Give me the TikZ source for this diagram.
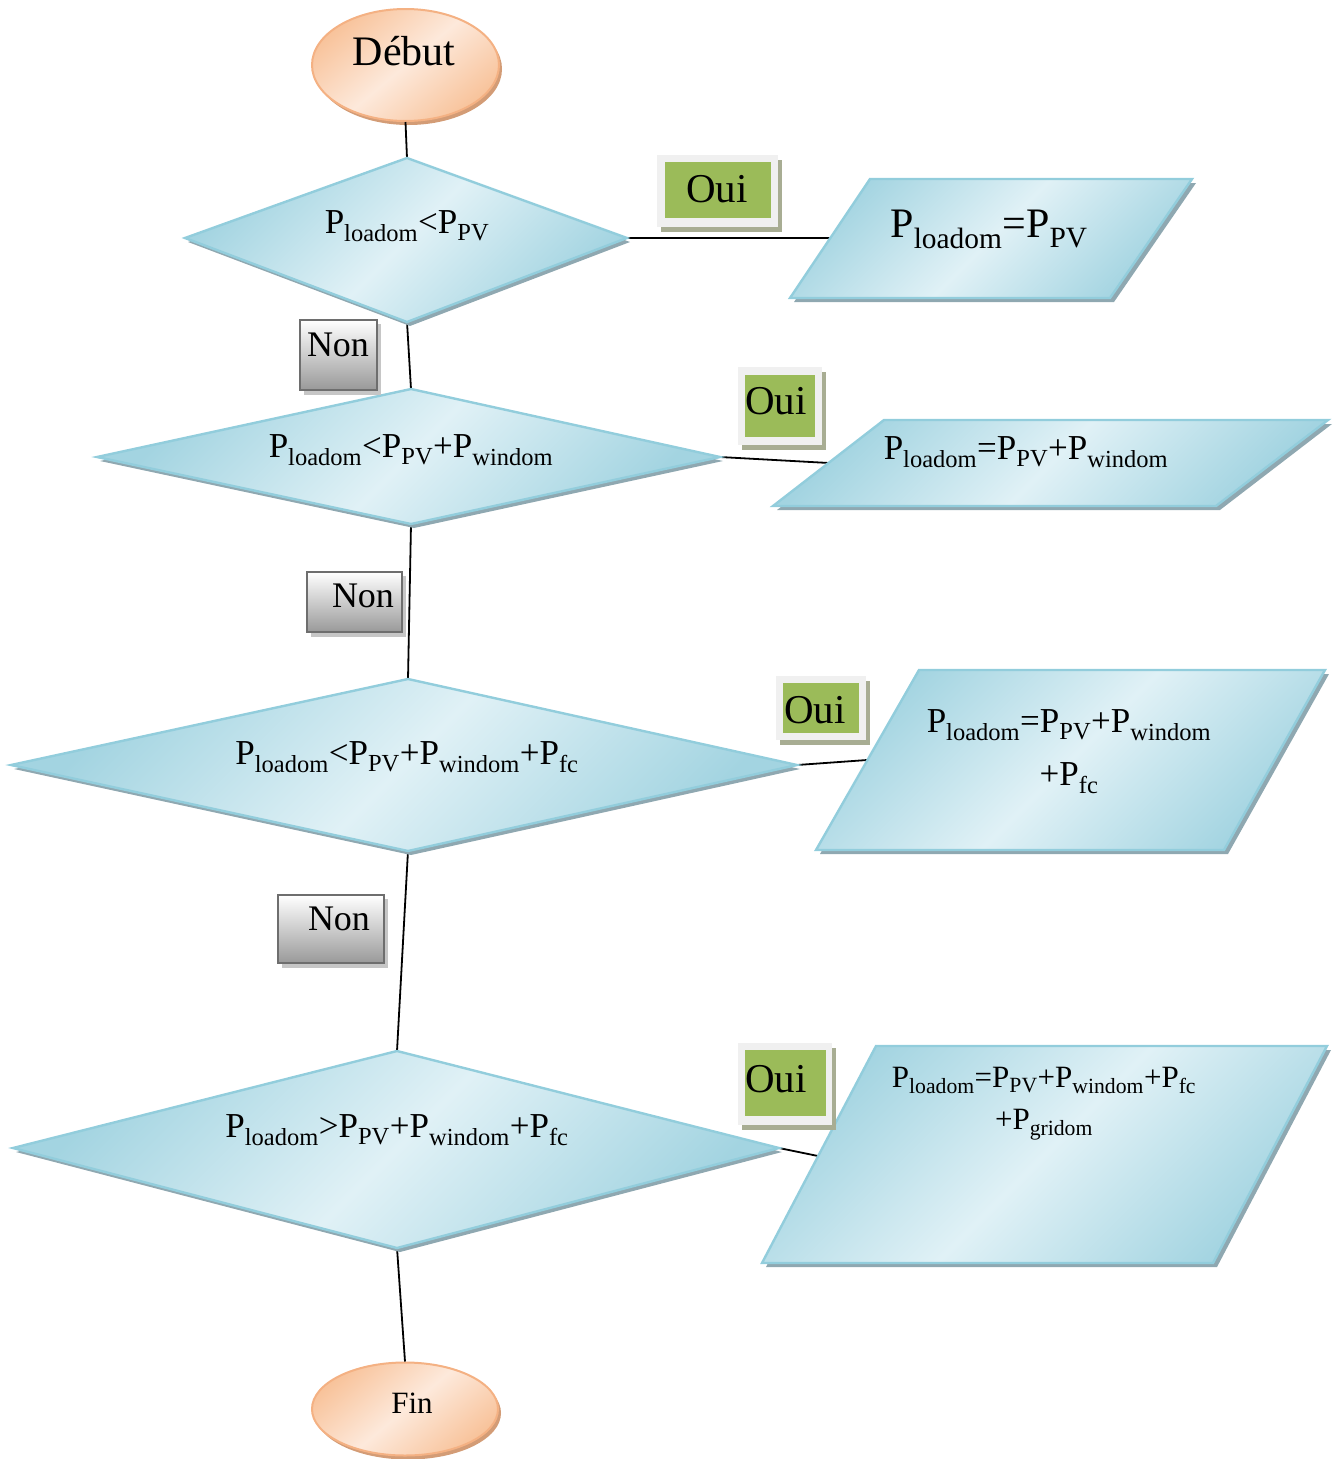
\documentclass[tikz,border=0pt]{standalone}
\usepackage{fontspec}
\setmainfont{Liberation Serif}
\usetikzlibrary{shapes.geometric}

\definecolor{blueedge}{HTML}{92CDDC}
\definecolor{bluedark}{HTML}{A3D4E1}
\definecolor{bluelight}{HTML}{E0F1F6}
\definecolor{blueshadow}{HTML}{8FA8B1}
\definecolor{orangeedge}{HTML}{F4B183}
\definecolor{orangedark}{HTML}{F8C39B}
\definecolor{orangelight}{HTML}{FDE9DB}
\definecolor{orangeshadow}{HTML}{D39C76}
\definecolor{ouigreen}{HTML}{9BBB59}
\definecolor{ouiframe}{HTML}{F0F0F0}
\definecolor{ouishadow}{HTML}{A8AD93}
\definecolor{nonedge}{HTML}{6E6E6E}
\definecolor{nondark}{HTML}{999999}
\definecolor{nonshadow}{HTML}{C6C6C6}

\tikzset{
  x=1pt, y=-1pt,
  link/.style={draw=black, line width=1.8pt},
  decision/.style={
    preaction={fill=blueshadow, transform canvas={shift={(3,4)}}},
    draw=blueedge, line width=2.4pt, line join=miter,
    top color=bluedark, bottom color=bluedark, middle color=bluelight,
    shading angle=45},
  iobox/.style={
    preaction={fill=blueshadow, transform canvas={shift={(4,4)}}},
    draw=blueedge, line width=2.4pt,
    top color=bluedark, bottom color=bluedark, middle color=bluelight,
    shading angle=45},
  terminal/.style={ellipse, inner sep=0pt,
    preaction={fill=orangeshadow, transform canvas={shift={(3,4)}}},
    draw=orangeedge, line width=2pt,
    top color=orangedark, bottom color=orangedark, middle color=orangelight,
    shading angle=40},
  ouishade/.style={fill=ouishadow},
  ouiouter/.style={fill=ouiframe},
  ouiinner/.style={fill=ouigreen},
  nonshade/.style={fill=nonshadow},
  nonbox/.style={draw=nonedge, line width=2pt, top color=white, bottom color=nondark},
  txt/.style={anchor=base, inner sep=0pt, text=black},
}

\newcommand\bigtxt{\fontsize{35}{42}\selectfont}

\begin{document}
\begin{tikzpicture}
\useasboundingbox (0,0) rectangle (1340,1459);

% ---- terminals ----
\node[terminal, minimum width=187pt, minimum height=112pt] (start) at (405.5,65) {};
\node[txt, font=\fontsize{42}{48}\selectfont] (starttxt) at (404,65) {Début};

\node[terminal, minimum width=186pt, minimum height=93pt] (stop) at (405,1409) {};
\node[txt, font=\fontsize{31}{36}\selectfont] (stoptxt) at (412,1413) {Fin};

% ---- decision corners ----
\coordinate (d1t) at (407,158);  \coordinate (d1r) at (627,238);
\coordinate (d1b) at (407,322);  \coordinate (d1l) at (185,238);
\coordinate (d2t) at (411,389);  \coordinate (d2r) at (720,457);
\coordinate (d2b) at (411,524);  \coordinate (d2l) at (97,457);
\coordinate (d3t) at (408,679);  \coordinate (d3r) at (797,765);
\coordinate (d3b) at (408,851);  \coordinate (d3l) at (11,765);
\coordinate (d4t) at (397,1051); \coordinate (d4r) at (779,1148);
\coordinate (d4b) at (397,1248); \coordinate (d4l) at (13,1148);

% ---- output corners ----
\coordinate (p1tl) at (870,179);  \coordinate (p1tr) at (1192,179);
\coordinate (p1br) at (1110,298); \coordinate (p1bl) at (790,298);
\coordinate (p2tl) at (884,420);  \coordinate (p2tr) at (1328,420);
\coordinate (p2br) at (1216,506); \coordinate (p2bl) at (773,506);
\coordinate (p3tl) at (919,670);  \coordinate (p3tr) at (1325,670);
\coordinate (p3br) at (1224,850); \coordinate (p3bl) at (816,850);
\coordinate (p4tl) at (876,1046); \coordinate (p4tr) at (1327,1046);
\coordinate (p4br) at (1213,1263); \coordinate (p4bl) at (762,1263);

% connector ends on the slanted left sides
\coordinate (p1in) at (830,238);
\coordinate (p2in) at (829,463);
\coordinate (p3in) at (867,760);
\coordinate (p4in) at (818,1156);

% ---- connectors ----
\draw[link] (start.south) -- (d1t);
\draw[link] (d1b) -- (d2t);
\draw[link] (d2b) -- (d3t);
\draw[link] (d3b) -- (d4t);
\draw[link] (d4b) -- (stop.north);
\draw[link] (d1r) -- (p1in);
\draw[link] (d2r) -- (p2in);
\draw[link] (d3r) -- (p3in);
\draw[link] (d4r) -- (p4in);

% ---- decisions ----
\path[decision] (d1t) -- (d1r) -- (d1b) -- (d1l) -- cycle;
\path[decision] (d2t) -- (d2r) -- (d2b) -- (d2l) -- cycle;
\path[decision] (d3t) -- (d3r) -- (d3b) -- (d3l) -- cycle;
\path[decision] (d4t) -- (d4r) -- (d4b) -- (d4l) -- cycle;

\node[txt, font=\bigtxt] (c1) at (407,233)
  {P\textsubscript{loadom}<P\textsubscript{PV}};
\node[txt, font=\bigtxt] (c2) at (411,457)
  {P\textsubscript{loadom}<P\textsubscript{PV}+P\textsubscript{windom}};
\node[txt, font=\bigtxt] (c3) at (407,764)
  {P\textsubscript{loadom}<P\textsubscript{PV}+P\textsubscript{windom}+P\textsubscript{fc}};
\node[txt, font=\bigtxt] (c4) at (397,1137)
  {P\textsubscript{loadom}>P\textsubscript{PV}+P\textsubscript{windom}+P\textsubscript{fc}};

% ---- outputs ----
\path[iobox] (p1tl) -- (p1tr) -- (p1br) -- (p1bl) -- cycle;
\path[iobox] (p2tl) -- (p2tr) -- (p2br) -- (p2bl) -- cycle;
\path[iobox] (p3tl) -- (p3tr) -- (p3br) -- (p3bl) -- cycle;
\path[iobox] (p4tl) -- (p4tr) -- (p4br) -- (p4bl) -- cycle;

\node[txt, font=\fontsize{42}{48}\selectfont] (o1) at (989,237)
  {P\textsubscript{loadom}=P\textsubscript{PV}};
\node[txt, font=\bigtxt] (o2) at (1026,459)
  {P\textsubscript{loadom}=P\textsubscript{PV}+P\textsubscript{windom}};
\node[txt, font=\bigtxt] (o3a) at (1069,732)
  {P\textsubscript{loadom}=P\textsubscript{PV}+P\textsubscript{windom}};
\node[txt, font=\bigtxt] (o3b) at (1069,785)
  {+P\textsubscript{fc}};
\node[txt, font=\fontsize{31}{37}\selectfont] (o4a) at (1044,1087)
  {P\textsubscript{loadom}=P\textsubscript{PV}+P\textsubscript{windom}+P\textsubscript{fc}};
\node[txt, font=\fontsize{31}{37}\selectfont] (o4b) at (1044,1129)
  {+P\textsubscript{gridom}};

% ---- Oui labels ----
\fill[ouishade] (661,160) rectangle (782,232);
\fill[ouiouter] (657,155) rectangle (778,227);
\fill[ouiinner] (665,162) rectangle (771,218);
\node[txt, font=\fontsize{41}{48}\selectfont] (oui1) at (717,202) {Oui};

\fill[ouishade] (742,372) rectangle (826,450);
\fill[ouiouter] (738,367) rectangle (822,445);
\fill[ouiinner] (745,375) rectangle (815,437);
\node[txt, font=\fontsize{41}{48}\selectfont] (oui2) at (776,414) {Oui};

\fill[ouishade] (780,681) rectangle (870,745);
\fill[ouiouter] (776,676) rectangle (866,740);
\fill[ouiinner] (783,683) rectangle (859,733);
\node[txt, font=\fontsize{41}{48}\selectfont] (oui3) at (815,723) {Oui};

\fill[ouishade] (742,1048) rectangle (836,1130);
\fill[ouiouter] (738,1043) rectangle (832,1125);
\fill[ouiinner] (745,1050) rectangle (826,1116);
\node[txt, font=\fontsize{41}{48}\selectfont] (oui4) at (776,1092) {Oui};

% ---- Non labels ----
\fill[nonshade] (304,324) rectangle (381,395);
\path[nonbox] (300,320) rectangle (377,390);
\node[txt, font=\fontsize{36}{42}\selectfont] (non1) at (338,356) {Non};

\fill[nonshade] (311,576) rectangle (406,637);
\path[nonbox] (307,572) rectangle (402,632);
\node[txt, font=\fontsize{36}{42}\selectfont] (non2) at (363,607) {Non};

\fill[nonshade] (282,899) rectangle (388,968);
\path[nonbox] (278,895) rectangle (384,963);
\node[txt, font=\fontsize{36}{42}\selectfont] (non3) at (339,930) {Non};

\end{tikzpicture}
\end{document}
